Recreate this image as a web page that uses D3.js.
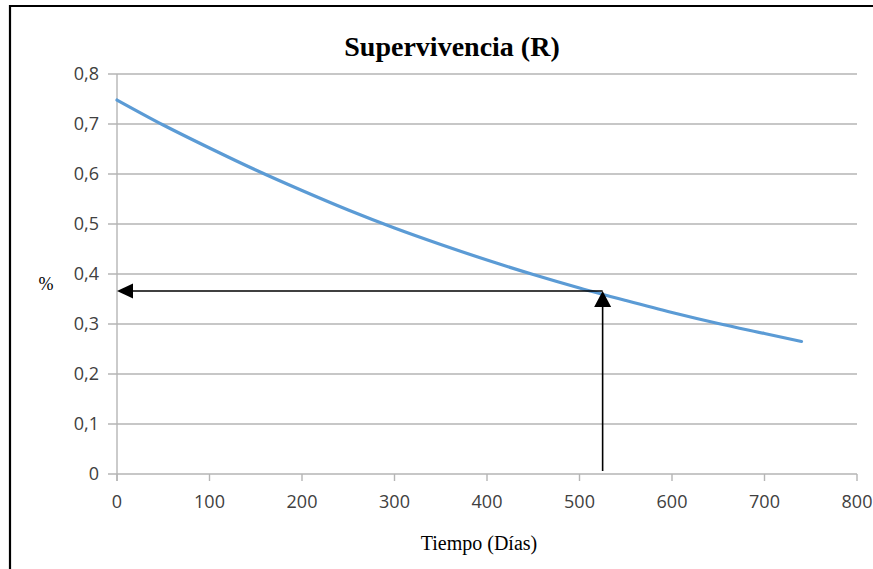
<!DOCTYPE html>
<html>
<head>
<meta charset="utf-8">
<script src="https://cdn.jsdelivr.net/npm/d3@7"></script>
<style>
  html, body { margin: 0; padding: 0; background: #fff; }
  svg { display: block; }
</style>
</head>
<body>
<svg id="chart" width="873" height="569"></svg>
<script>
// ---- data ----
const days = [0, 50, 100, 150, 200, 250, 300, 350, 400, 450, 500, 550, 600, 650, 700, 740];
const survival = [0.748, 0.698, 0.652, 0.608, 0.567, 0.528, 0.492, 0.459, 0.428, 0.399, 0.372, 0.347, 0.323, 0.301, 0.281, 0.265];
const xTicks = [0, 100, 200, 300, 400, 500, 600, 700, 800];
const yTicks = [0, 0.1, 0.2, 0.3, 0.4, 0.5, 0.6, 0.7, 0.8];
const markerDay = [525];
const markerSurvival = [0.366];
const chartTitle = "Supervivencia (R)";
const xTitle = "Tiempo (Días)";
const yTitle = "%";

// ---- layout ----
const svg = d3.select("#chart");
const pLeft = 117, pRight = 857, pTop = 74, pBottom = 474;
const x = d3.scaleLinear().domain([0, 800]).range([pLeft, pRight]);
const y = d3.scaleLinear().domain([0, 0.8]).range([pBottom, pTop]);
const fmt = d => String(+d.toFixed(1)).replace(".", ",");
const gridColor = "#b5b5b5";

// outer frame (top and left edges)
svg.append("line").attr("x1", 9).attr("x2", 873).attr("y1", 6).attr("y2", 6)
  .attr("stroke", "#000").attr("stroke-width", 2.2);
svg.append("line").attr("x1", 10).attr("x2", 10).attr("y1", 5).attr("y2", 569)
  .attr("stroke", "#000").attr("stroke-width", 2.2);

// gridlines
svg.append("g").selectAll("line").data(yTicks).join("line")
  .attr("x1", pLeft - 9).attr("x2", pRight)
  .attr("y1", d => y(d)).attr("y2", d => y(d))
  .attr("stroke", gridColor).attr("stroke-width", 1.4);

// y axis line
svg.append("line").attr("x1", pLeft).attr("x2", pLeft).attr("y1", pTop).attr("y2", pBottom + 7)
  .attr("stroke", gridColor).attr("stroke-width", 1.4);

// x ticks
svg.append("g").selectAll("line").data(xTicks).join("line")
  .attr("x1", d => x(d)).attr("x2", d => x(d))
  .attr("y1", pBottom).attr("y2", pBottom + 7)
  .attr("stroke", gridColor).attr("stroke-width", 1.4);

// y tick labels
const tickFont = "'Open Sans', sans-serif";
svg.append("g").selectAll("text").data(yTicks).join("text")
  .attr("x", 99).attr("y", d => y(d))
  .attr("dy", "0.35em")
  .attr("text-anchor", "end")
  .attr("font-family", tickFont).attr("font-size", 18)
  .attr("fill", "#404040")
  .text(fmt);

// x tick labels
svg.append("g").selectAll("text").data(xTicks).join("text")
  .attr("x", d => x(d)).attr("y", 502)
  .attr("dy", "0.35em")
  .attr("text-anchor", "middle")
  .attr("font-family", tickFont).attr("font-size", 18)
  .attr("fill", "#404040")
  .text(d => d);

// survival curve
const pts = days.map((d, i) => [d, survival[i]]);
svg.append("path").datum(pts)
  .attr("fill", "none").attr("stroke", "#5b9bd5").attr("stroke-width", 3.2)
  .attr("stroke-linecap", "round")
  .attr("d", d3.line().x(d => x(d[0])).y(d => y(d[1])).curve(d3.curveMonotoneX));

// arrows
const mx = x(markerDay[0]), my = y(markerSurvival[0]);
const ag = svg.append("g");
ag.append("line").attr("x1", mx).attr("x2", pLeft + 14).attr("y1", my).attr("y2", my)
  .attr("stroke", "#000").attr("stroke-width", 1.6);
ag.append("path")
  .attr("d", `M${pLeft},${my} L${pLeft + 16},${my - 7.5} L${pLeft + 16},${my + 7.5} Z`)
  .attr("fill", "#000");
ag.append("line").attr("x1", mx).attr("x2", mx).attr("y1", y(0) - 3).attr("y2", my + 14)
  .attr("stroke", "#000").attr("stroke-width", 1.6);
ag.append("path")
  .attr("d", `M${mx},${my} L${mx - 8.5},${my + 16} L${mx + 8.5},${my + 16} Z`)
  .attr("fill", "#000");

// titles
svg.append("text").attr("x", 452).attr("y", 56)
  .attr("text-anchor", "middle")
  .attr("font-family", "'Liberation Serif', 'Times New Roman', serif")
  .attr("font-weight", "bold").attr("font-size", 28)
  .attr("fill", "#000")
  .text(chartTitle);

svg.append("text").attr("x", 479).attr("y", 550)
  .attr("text-anchor", "middle")
  .attr("font-family", "'Liberation Serif', 'Times New Roman', serif")
  .attr("font-size", 20)
  .attr("fill", "#000")
  .text(xTitle);

svg.append("text").attr("x", 46).attr("y", 290)
  .attr("text-anchor", "middle")
  .attr("font-family", "'Liberation Serif', 'Times New Roman', serif")
  .attr("font-size", 18)
  .attr("fill", "#000")
  .text(yTitle);
</script>
</body>
</html>
